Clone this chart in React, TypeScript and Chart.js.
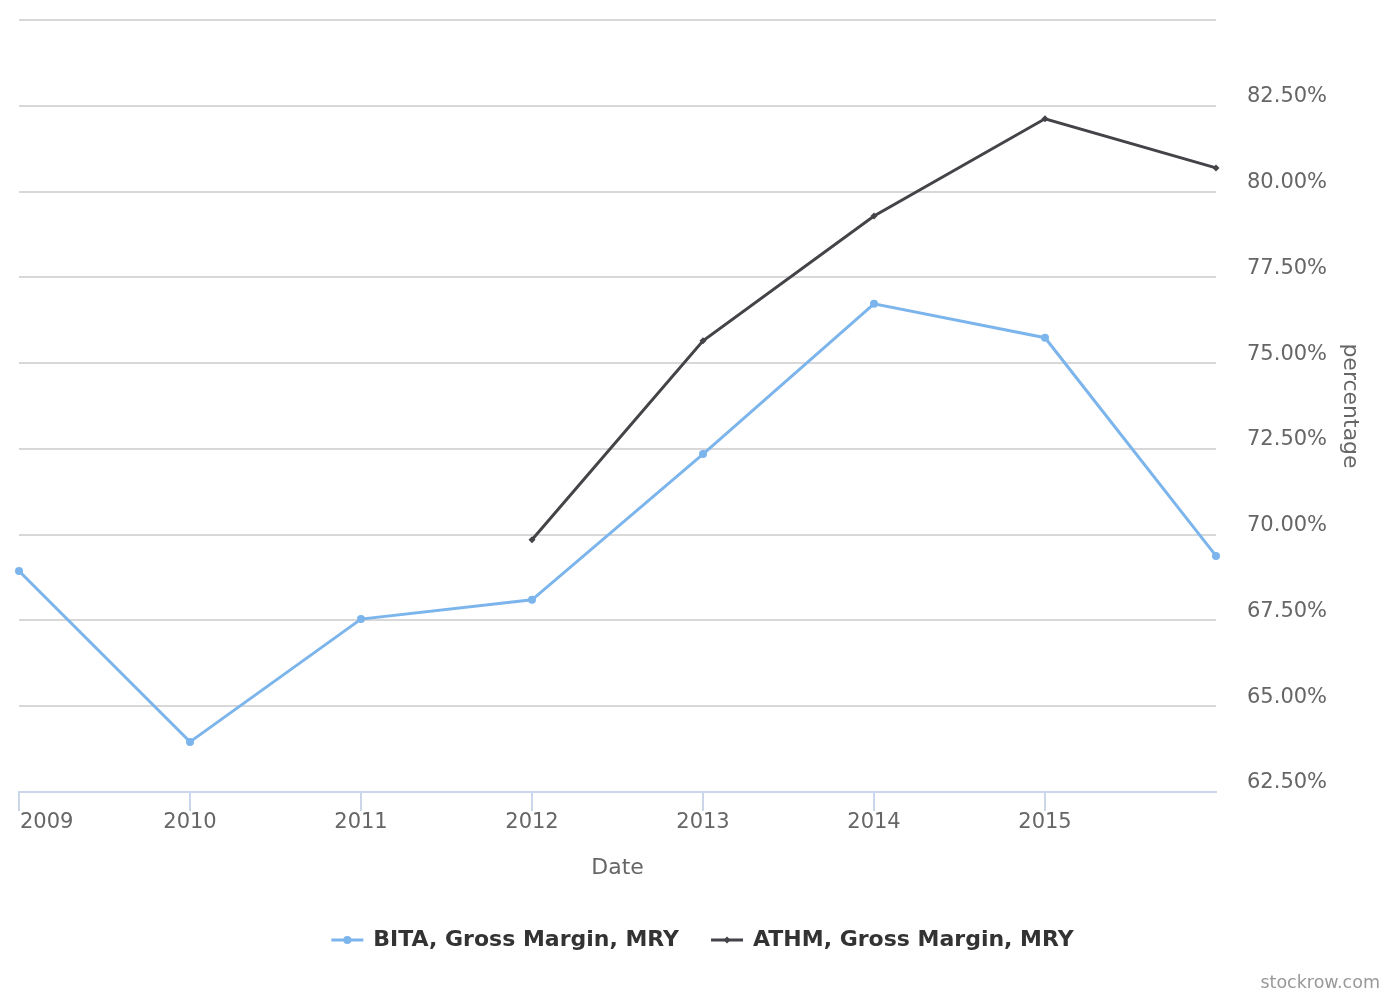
import React, { useEffect, useRef } from "react";
import { Chart, registerables } from "chart.js";

Chart.register(...registerables);

const years = [2009, 2010, 2011, 2012, 2013, 2014, 2015, 2016];
const tickYears = [2009, 2010, 2011, 2012, 2013, 2014, 2015];
const bitaValues = [68.94, 63.96, 67.54, 68.1, 72.35, 76.73, 75.74, 69.38];
const athmValues: (number | null)[] = [null, null, null, 69.85, 75.65, 79.29, 82.12, 80.69];
const seriesNames = ["BITA, Gross Margin, MRY", "ATHM, Gross Margin, MRY"];
const seriesColors = ["#7cb5ec", "#434348"];

const FONT = "'DejaVu Sans', sans-serif";

const overlayPlugin = {
  id: "overlay",
  afterDraw(chart: any) {
    const ctx = chart.ctx;
    const xs = chart.scales.x;
    const area = chart.chartArea;
    ctx.save();
    // x tick labels
    ctx.font = `21px ${FONT}`;
    ctx.fillStyle = "#666666";
    ctx.textBaseline = "middle";
    tickYears.forEach((y, i) => {
      const px = xs.getPixelForValue(y);
      ctx.textAlign = i === 0 ? "left" : "center";
      ctx.fillText(String(y), i === 0 ? px + 1 : px, 823);
    });
    // x title
    ctx.font = `22px ${FONT}`;
    ctx.textAlign = "center";
    ctx.fillText("Date", (area.left + area.right) / 2, 868);
    // y title
    ctx.save();
    ctx.translate(1350, (area.top + area.bottom) / 2);
    ctx.rotate(Math.PI / 2);
    ctx.fillText("percentage", 0, 0);
    ctx.restore();
    // legend
    ctx.font = `bold 22px ${FONT}`;
    ctx.textAlign = "left";
    const gap = 32;
    const symW = 32;
    const widths = seriesNames.map((n) => ctx.measureText(n).width);
    const total = widths.reduce((a, b) => a + b, 0) + 2 * (symW + 10) + gap;
    let x = 702.5 - total / 2;
    const ly = 940;
    seriesNames.forEach((n, i) => {
      ctx.strokeStyle = seriesColors[i];
      ctx.lineWidth = 3;
      ctx.beginPath();
      ctx.moveTo(x, ly);
      ctx.lineTo(x + symW, ly);
      ctx.stroke();
      ctx.fillStyle = seriesColors[i];
      ctx.beginPath();
      if (i === 0) {
        ctx.arc(x + symW / 2, ly, 4, 0, Math.PI * 2);
      } else {
        const cx = x + symW / 2;
        ctx.moveTo(cx, ly - 3.5);
        ctx.lineTo(cx + 3.5, ly);
        ctx.lineTo(cx, ly + 3.5);
        ctx.lineTo(cx - 3.5, ly);
        ctx.closePath();
      }
      ctx.fill();
      ctx.fillStyle = "#333333";
      ctx.fillText(n, x + symW + 10, ly);
      x += symW + 10 + widths[i] + gap;
    });
    // credit
    ctx.font = `17.5px ${FONT}`;
    ctx.fillStyle = "#999999";
    ctx.textAlign = "right";
    ctx.fillText("stockrow.com", 1380, 983);
    ctx.restore();
  },
};

export default function App() {
  const ref = useRef<HTMLCanvasElement>(null);
  useEffect(() => {
    if (!ref.current) return;
    const chart = new Chart(ref.current, {
      type: "line",
      data: {
        datasets: [
          {
            label: seriesNames[0],
            data: years.map((y, i) => ({ x: y, y: bitaValues[i] })),
            borderColor: seriesColors[0],
            backgroundColor: seriesColors[0],
            borderWidth: 3,
            pointRadius: 4,
            pointStyle: "circle",
            pointBorderWidth: 0,
            clip: false,
            tension: 0,
          },
          {
            label: seriesNames[1],
            data: years
              .map((y, i) => ({ x: y, y: athmValues[i] }))
              .filter((p) => p.y !== null) as any,
            borderColor: seriesColors[1],
            backgroundColor: seriesColors[1],
            borderWidth: 3,
            pointRadius: 3.5,
            pointStyle: "rectRot",
            pointBorderWidth: 0,
            clip: false,
            tension: 0,
          },
        ],
      },
      options: {
        animation: false,
        responsive: false,
        events: [],
        layout: { padding: { left: 19, top: 20, right: 0, bottom: 0 } },
        plugins: { legend: { display: false }, tooltip: { enabled: false }, title: { display: false } },
        scales: {
          x: {
            type: "linear",
            min: 2009,
            max: 2016,
            afterBuildTicks: (s: any) => {
              s.ticks = tickYears.map((v) => ({ value: v }));
            },
            afterFit: (s: any) => {
              s.height = 208;
              s.paddingLeft = 0;
              s.paddingRight = 0;
            },
            ticks: { display: false },
            grid: {
              drawOnChartArea: false,
              drawTicks: true,
              tickLength: 19,
              color: "#ccd6eb",
              lineWidth: 2,
            },
            border: { display: true, color: "#ccd6eb", width: 2 },
          },
          y: {
            position: "right",
            min: 62.5,
            max: 85,
            afterBuildTicks: (s: any) => {
              const t = [];
              for (let v = 62.5; v <= 85.001; v += 2.5) t.push({ value: v });
              s.ticks = t;
            },
            afterFit: (s: any) => {
              s.width = 184;
              s.paddingTop = 0;
              s.paddingBottom = 0;
            },
            ticks: {
              padding: 31,
              labelOffset: -9,
              color: "#666666",
              font: { family: "DejaVu Sans", size: 21 },
              callback: (v: any) => (Math.abs(v - 85) < 0.01 ? "" : Number(v).toFixed(2) + "%"),
            },
            grid: {
              drawTicks: false,
              color: (c: any) => (c.tick && Math.abs(c.tick.value - 62.5) < 0.01 ? "rgba(0,0,0,0)" : "#d8d8d8"),
              lineWidth: 2,
            },
            border: { display: false },
          },
        },
      },
      plugins: [overlayPlugin],
    });
    return () => chart.destroy();
  }, []);
  return (
    <div style={{ position: "absolute", left: 0, top: 0, width: 1400, height: 1000, background: "#fff" }}>
      <canvas ref={ref} width={1400} height={1000} style={{ display: "block" }} />
    </div>
  );
}
